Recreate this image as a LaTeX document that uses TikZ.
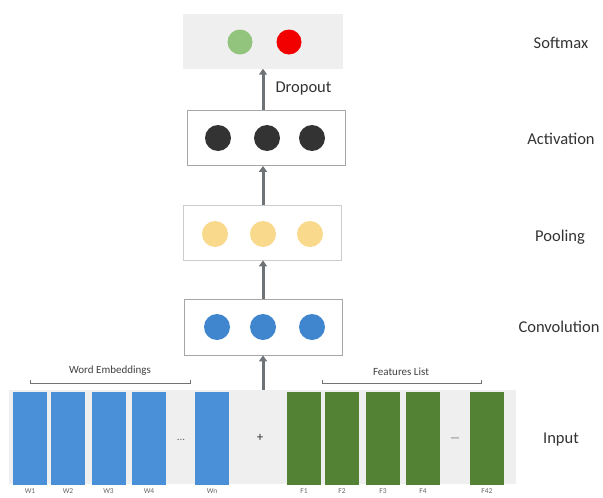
\documentclass[tikz,border=0pt]{standalone}
\usepackage{fontspec}
\setmainfont{Carlito}
\usetikzlibrary{arrows.meta}
\definecolor{wblue}{HTML}{4A90D9}
\definecolor{fgreen}{HTML}{548235}
\definecolor{cblue}{HTML}{3F86CE}
\definecolor{pyellow}{HTML}{F9D98C}
\definecolor{adark}{HTML}{333333}
\definecolor{sgreen}{HTML}{93C47D}
\definecolor{sred}{HTML}{F20000}
\definecolor{bandgray}{HTML}{EFEFEF}
\definecolor{arrgray}{HTML}{6E7378}
\tikzset{
  layerbox/.style={draw=black!35, line width=0.8pt, fill=white, minimum width=158pt, minimum height=56pt, inner sep=0},
  unit/.style={circle, minimum size=26pt, inner sep=0},
  wbar/.style={fill=wblue, minimum width=34pt, minimum height=93pt, inner sep=0},
  fbar/.style={fill=fgreen, minimum width=34pt, minimum height=93pt, inner sep=0},
  sidelabel/.style={font=\fontsize{16.5}{18}\selectfont, text=black!80},
  tinylabel/.style={font=\fontsize{7.5}{8}\selectfont, text=black!60},
  grouplabel/.style={font=\fontsize{11}{12}\selectfont, text=black!75},
  flow/.style={draw=arrgray, line width=3pt, -{Triangle[length=6pt,width=8pt]}},
  bracketline/.style={draw=black!55, line width=0.6pt}
}
\begin{document}
\begin{tikzpicture}[x=1pt,y=-1pt]
\useasboundingbox (0,0) rectangle (603,498);
% input band
\node[fill=bandgray, minimum width=507pt, minimum height=94pt, inner sep=0] (input) at (262,437) {};
% word bars
\node[wbar] (w1) at (30,438.5) {};
\node[wbar] (w2) at (68,438.5) {};
\node[wbar] (w3) at (108.5,438.5) {};
\node[wbar] (w4) at (149,438.5) {};
\node[wbar] (wn) at (212,438.5) {};
\node[fbar] (f1) at (304,438.5) {};
\node[fbar] (f2) at (342,438.5) {};
\node[fbar] (f3) at (383,438.5) {};
\node[fbar] (f4) at (423,438.5) {};
\node[fbar] (fn) at (487,438.5) {};
\node[text=black!60, font=\fontsize{11}{12}\selectfont] (wdots) at (181,440) {...};
\node[text=black!60, font=\fontsize{11}{12}\selectfont] (fdots) at (455,440) {---};
\node[text=black!80, font=\fontsize{13}{14}\selectfont] (plus) at (260,438) {+};
% bar labels
\node[tinylabel] (lw1) at (30,491) {W1};
\node[tinylabel] (lw2) at (68,491) {W2};
\node[tinylabel] (lw3) at (108.5,491) {W3};
\node[tinylabel] (lw4) at (149,491) {W4};
\node[tinylabel] (lwn) at (212,491) {Wn};
\node[tinylabel] (lf1) at (304,491) {F1};
\node[tinylabel] (lf2) at (342,491) {F2};
\node[tinylabel] (lf3) at (383,491) {F3};
\node[tinylabel] (lf4) at (423,491) {F4};
\node[tinylabel] (lfn) at (487,491) {F42};
% brackets
\coordinate (wbl) at (30,383);
\coordinate (wbr) at (190,383);
\coordinate (fbl) at (322,383);
\coordinate (fbr) at (481,383);
\draw[bracketline] ([yshift=3pt]wbl) -- (wbl) -- (wbr) -- ([yshift=3pt]wbr);
\draw[bracketline] ([yshift=3pt]fbl) -- (fbl) -- (fbr) -- ([yshift=3pt]fbr);
\node[grouplabel] (wel) at (110,371) {Word Embeddings};
\node[grouplabel] (fll) at (401,372) {Features List};
% layers
\node[layerbox] (conv) at (263,327) {};
\node[unit, fill=cblue] (c1) at (217,327) {};
\node[unit, fill=cblue] (c2) at (263,327) {};
\node[unit, fill=cblue] (c3) at (312,327) {};
\node[layerbox, draw=black!20, minimum height=55pt] (pool) at (262,232.5) {};
\node[unit, fill=pyellow] (p1) at (215,234) {};
\node[unit, fill=pyellow] (p2) at (263,234) {};
\node[unit, fill=pyellow] (p3) at (310,234) {};
\node[layerbox, minimum height=55pt] (act) at (266,138) {};
\node[unit, fill=adark] (a1) at (218,138) {};
\node[unit, fill=adark] (a2) at (267,138) {};
\node[unit, fill=adark] (a3) at (312,138) {};
\node[fill=bandgray, minimum width=160pt, minimum height=55pt, inner sep=0] (soft) at (263,41) {};
\node[unit, fill=sgreen, minimum size=25pt] (s1) at (240,42) {};
\node[unit, fill=sred, minimum size=25pt] (s2) at (289,42) {};
% arrows
\draw[flow] (input.north -| conv) -- (conv.south);
\draw[flow] (conv.north) -- (conv.north |- pool.south);
\draw[flow] (pool.north -| conv) -- (act.south -| conv);
\draw[flow] (act.north -| conv) -- (soft.south -| conv);
\node[sidelabel, anchor=west] (drop) at (272,89) {Dropout};
% side labels
\node[sidelabel] (lsoft) at (561,43) {Softmax};
\node[sidelabel] (lact) at (561,139) {Activation};
\node[sidelabel] (lpool) at (560,237) {Pooling};
\node[sidelabel] (lconv) at (559,327) {Convolution};
\node[sidelabel] (linp) at (561,440) {Input};
\end{tikzpicture}
\end{document}
